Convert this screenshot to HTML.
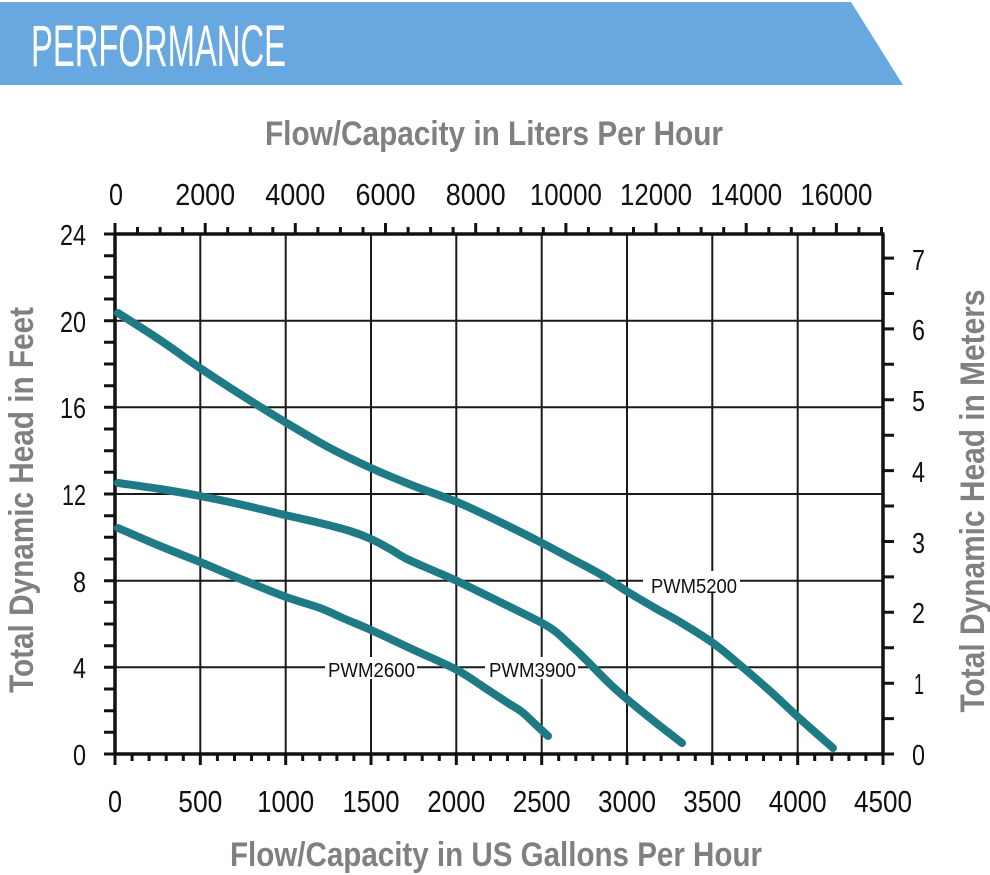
<!DOCTYPE html>
<html><head><meta charset="utf-8"><style>
html,body{margin:0;padding:0;background:#fff;}
svg{display:block;}
text{font-family:"Liberation Sans",sans-serif;}
.n{font-size:31px;fill:#111;}
.ln{font-size:29px;fill:#111;}
.t{font-size:34px;font-weight:bold;fill:#808080;}
.lb{font-size:20px;fill:#111;}
</style></head><body>
<svg id="chart" width="990" height="875" viewBox="0 0 990 875" xmlns="http://www.w3.org/2000/svg">
<rect width="990" height="875" fill="#fff"/>
<polygon points="0,2 851,2 903,85 0,85" fill="#68a8e1"/>
<text x="31" y="66" font-size="58" fill="#fff" textLength="255" lengthAdjust="spacingAndGlyphs">PERFORMANCE</text>

<text class="t" x="265" y="145" textLength="458" lengthAdjust="spacingAndGlyphs">Flow/Capacity in Liters Per Hour</text>
<text class="t" x="230" y="866" textLength="532" lengthAdjust="spacingAndGlyphs">Flow/Capacity in US Gallons Per Hour</text>
<text class="t" transform="translate(33,500) rotate(-90)" text-anchor="middle" textLength="386" lengthAdjust="spacingAndGlyphs">Total Dynamic Head in Feet</text>
<text class="t" transform="translate(984,501) rotate(-90)" text-anchor="middle" textLength="423" lengthAdjust="spacingAndGlyphs">Total Dynamic Head in Meters</text>

<!-- grid -->
<g stroke="#1a1a1a" stroke-width="2" fill="none">
<path d="M200.3 234V754 M285.7 234V754 M371 234V754 M456.3 234V754 M541.7 234V754 M627 234V754 M712.3 234V754 M797.7 234V754"/>
<path d="M115 667.3H883 M115 580.7H883 M115 494H883 M115 407.3H883 M115 320.7H883"/>
</g>

<!-- ticks -->
<g stroke="#111" stroke-width="3" fill="none">
<path d="M104 754H115 M104 732.3H115 M104 710.7H115 M104 689H115 M104 667.3H115 M104 645.7H115 M104 624H115 M104 602.3H115 M104 580.7H115 M104 559H115 M104 537.3H115 M104 515.7H115 M104 494H115 M104 472.3H115 M104 450.7H115 M104 429H115 M104 407.3H115 M104 385.7H115 M104 364H115 M104 342.3H115 M104 320.7H115 M104 299H115 M104 277.3H115 M104 255.7H115 M104 234H115"/>
<path d="M132.1 754V761 M149.1 754V761 M166.2 754V761 M183.3 754V761 M217.4 754V761 M234.5 754V761 M251.5 754V761 M268.6 754V761 M302.7 754V761 M319.8 754V761 M336.9 754V761 M353.9 754V761 M388.1 754V761 M405.1 754V761 M422.2 754V761 M439.3 754V761 M473.4 754V761 M490.5 754V761 M507.5 754V761 M524.6 754V761 M558.7 754V761 M575.8 754V761 M592.9 754V761 M609.9 754V761 M644.1 754V761 M661.1 754V761 M678.2 754V761 M695.3 754V761 M729.4 754V761 M746.5 754V761 M763.5 754V761 M780.6 754V761 M814.7 754V761 M831.8 754V761 M848.9 754V761 M865.9 754V761"/>
<path d="M115 754V765 M200.3 754V765 M285.7 754V765 M371 754V765 M456.3 754V765 M541.7 754V765 M627 754V765 M712.3 754V765 M797.7 754V765 M883 754V765"/>
<path d="M137.5 234V227 M160.1 234V227 M182.6 234V227 M227.7 234V227 M250.3 234V227 M272.8 234V227 M317.9 234V227 M340.4 234V227 M363 234V227 M408.1 234V227 M430.6 234V227 M453.1 234V227 M498.2 234V227 M520.8 234V227 M543.3 234V227 M588.4 234V227 M611 234V227 M633.5 234V227 M678.6 234V227 M701.1 234V227 M723.7 234V227 M768.8 234V227 M791.3 234V227 M813.8 234V227 M858.9 234V227 M881.5 234V227"/>
<path d="M115 234V223 M205.2 234V223 M295.3 234V223 M385.5 234V223 M475.7 234V223 M565.9 234V223 M656 234V223 M746.2 234V223 M836.4 234V223"/>
<path d="M883 718.6H894 M883 683.2H894 M883 647.7H894 M883 612.3H894 M883 576.9H894 M883 541.5H894 M883 506H894 M883 470.6H894 M883 435.2H894 M883 399.8H894 M883 364.3H894 M883 328.9H894 M883 293.5H894 M883 258.1H894 M883 754H894"/>
</g>

<!-- axes -->
<g stroke="#111" stroke-width="3.5" fill="none">
<path d="M115 234V755.5 M113.5 754H884.5 M883 234V755.5 M113.5 234H884.5"/>
</g>

<!-- tick labels -->
<g class="n" text-anchor="middle">
<text x="116" y="205" textLength="14" lengthAdjust="spacingAndGlyphs">0</text>
<text x="205.2" y="205" textLength="60" lengthAdjust="spacingAndGlyphs">2000</text>
<text x="295.3" y="205" textLength="60" lengthAdjust="spacingAndGlyphs">4000</text>
<text x="385.5" y="205" textLength="60" lengthAdjust="spacingAndGlyphs">6000</text>
<text x="475.7" y="205" textLength="60" lengthAdjust="spacingAndGlyphs">8000</text>
<text x="565.9" y="205" textLength="72" lengthAdjust="spacingAndGlyphs">10000</text>
<text x="656" y="205" textLength="72" lengthAdjust="spacingAndGlyphs">12000</text>
<text x="746.2" y="205" textLength="72" lengthAdjust="spacingAndGlyphs">14000</text>
<text x="836.4" y="205" textLength="72" lengthAdjust="spacingAndGlyphs">16000</text>
</g>
<g class="n" text-anchor="middle">
<text x="115" y="812" textLength="14" lengthAdjust="spacingAndGlyphs">0</text>
<text x="200.3" y="812" textLength="44" lengthAdjust="spacingAndGlyphs">500</text>
<text x="285.7" y="812" textLength="57" lengthAdjust="spacingAndGlyphs">1000</text>
<text x="371" y="812" textLength="57" lengthAdjust="spacingAndGlyphs">1500</text>
<text x="456.3" y="812" textLength="58" lengthAdjust="spacingAndGlyphs">2000</text>
<text x="541.7" y="812" textLength="58" lengthAdjust="spacingAndGlyphs">2500</text>
<text x="627" y="812" textLength="58" lengthAdjust="spacingAndGlyphs">3000</text>
<text x="712.3" y="812" textLength="58" lengthAdjust="spacingAndGlyphs">3500</text>
<text x="797.7" y="812" textLength="58" lengthAdjust="spacingAndGlyphs">4000</text>
<text x="883" y="812" textLength="58" lengthAdjust="spacingAndGlyphs">4500</text>
</g>
<g class="ln" text-anchor="end">
<text x="86" y="245" textLength="26" lengthAdjust="spacingAndGlyphs">24</text>
<text x="86" y="332" textLength="26" lengthAdjust="spacingAndGlyphs">20</text>
<text x="86" y="418" textLength="26" lengthAdjust="spacingAndGlyphs">16</text>
<text x="86" y="505" textLength="24" lengthAdjust="spacingAndGlyphs">12</text>
<text x="86" y="592" textLength="13" lengthAdjust="spacingAndGlyphs">8</text>
<text x="86" y="678" textLength="13" lengthAdjust="spacingAndGlyphs">4</text>
<text x="86" y="765" textLength="13" lengthAdjust="spacingAndGlyphs">0</text>
</g>
<g class="ln">
<text x="912" y="270" textLength="13" lengthAdjust="spacingAndGlyphs">7</text>
<text x="912" y="340" textLength="13" lengthAdjust="spacingAndGlyphs">6</text>
<text x="912" y="411" textLength="13" lengthAdjust="spacingAndGlyphs">5</text>
<text x="912" y="482" textLength="13" lengthAdjust="spacingAndGlyphs">4</text>
<text x="912" y="553" textLength="13" lengthAdjust="spacingAndGlyphs">3</text>
<text x="912" y="623" textLength="13" lengthAdjust="spacingAndGlyphs">2</text>
<text x="914" y="694" textLength="10" lengthAdjust="spacingAndGlyphs">1</text>
<text x="912" y="765" textLength="13" lengthAdjust="spacingAndGlyphs">0</text>
</g>

<!-- series labels -->
<rect x="325" y="657" width="92" height="22" fill="#fff"/>
<rect x="485" y="657" width="93" height="22" fill="#fff"/>
<rect x="643" y="571" width="97" height="22" fill="#fff"/>
<g class="lb">
<text x="328" y="677" textLength="87" lengthAdjust="spacingAndGlyphs">PWM2600</text>
<text x="489" y="677" textLength="87" lengthAdjust="spacingAndGlyphs">PWM3900</text>
<text x="651" y="593" textLength="86" lengthAdjust="spacingAndGlyphs">PWM5200</text>
</g>

<!-- curves -->
<g id="curves" stroke="#1e7b86" stroke-width="8" fill="none" stroke-linecap="round" stroke-linejoin="round">
<polyline points="118,313 160,340 200,368 243,396 285,422 328,447 371,468 414,486 457,502 500,522 542,543 572,559 600,574 628,592 655,608 680,622 713,643 740,665 770,691 798,717 833,748"/>
<polyline points="118,483 160,489 200,496 243,505 285,515 320,523 350,531 371,539 390,549 407,559 432,570 457,581 500,602 542,623 556,632 567,642 580,654 593,667 610,684 628,700 655,722 682,743"/>
<polyline points="118,528 160,546 200,562 243,580 286,597 320,608 345,619 371,630 414,650 457,670 485,688 508,703 522,712 535,724 548,736"/>
</g>
</svg>
<script>
(function(){
  var g=document.getElementById('curves');
  if(!g)return;
  var pls=g.querySelectorAll('polyline');
  for(var i=0;i<pls.length;i++){
    var pl=pls[i];
    var pts=pl.getAttribute('points').trim().split(/\s+/).map(function(s){var a=s.split(',');return [parseFloat(a[0]),parseFloat(a[1])];});
    var d='M'+pts[0][0]+' '+pts[0][1];
    for(var j=0;j<pts.length-1;j++){
      var p0=pts[j>0?j-1:j],p1=pts[j],p2=pts[j+1],p3=pts[j+2<pts.length?j+2:j+1];
      var c1x=p1[0]+(p2[0]-p0[0])/6,c1y=p1[1]+(p2[1]-p0[1])/6;
      var c2x=p2[0]-(p3[0]-p1[0])/6,c2y=p2[1]-(p3[1]-p1[1])/6;
      d+=' C'+c1x.toFixed(2)+' '+c1y.toFixed(2)+' '+c2x.toFixed(2)+' '+c2y.toFixed(2)+' '+p2[0]+' '+p2[1];
    }
    var p=document.createElementNS('http://www.w3.org/2000/svg','path');
    p.setAttribute('d',d);
    g.replaceChild(p,pl);
  }
})();
</script>
</body></html>
